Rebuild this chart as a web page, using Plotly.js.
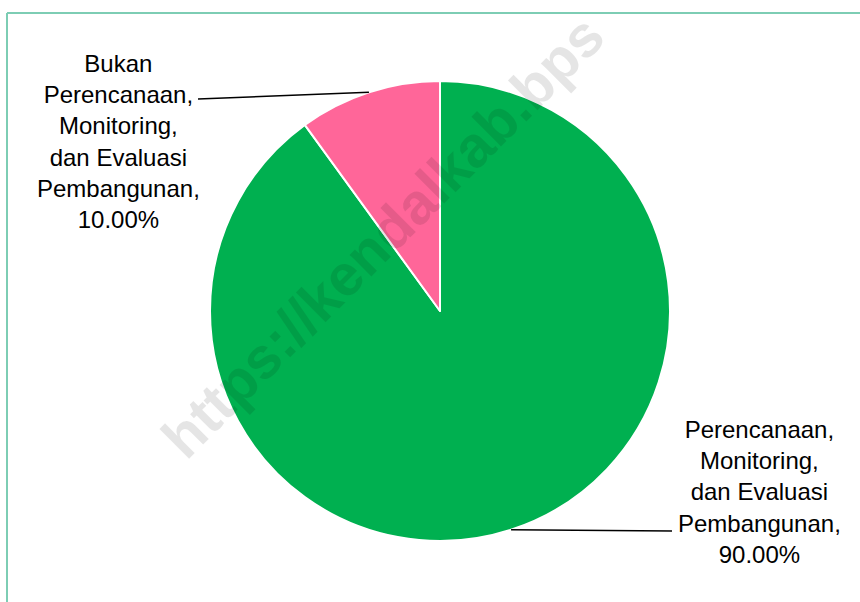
<!DOCTYPE html>
<html><head><meta charset="utf-8">
<script src="https://cdn.plot.ly/plotly-3.0.1.min.js"></script>
<style>html,body{margin:0;padding:0;background:#fff}#chart{width:860px;height:602px}</style>
</head><body><div id="chart"></div>
<script>
const labels = ["Perencanaan, Monitoring, dan Evaluasi Pembangunan", "Bukan Perencanaan, Monitoring, dan Evaluasi Pembangunan"];
const values = [90, 10];
const colors = ["#00B050", "#FF6699"];
const watermark = "https://kendalkab.bps";

const W = 860, H = 602;
const cx = 440, cy = 311, R = 230;
const px = x => x / W, py = y => 1 - y / H;

function wrap(s, n) {
  const words = s.split(" ");
  const lines = [];
  let cur = "";
  words.forEach(w => {
    if (!cur) cur = w;
    else if ((cur + " " + w).length <= n) cur += " " + w;
    else { lines.push(cur); cur = w; }
  });
  if (cur) lines.push(cur);
  return lines;
}

const total = values.reduce((a, b) => a + b, 0);
let cum = 0;
const mids = values.map(v => { const m = (cum + v / 2) / total * 360; cum += v; return m; });
const edge = mids.map(a => [cx + R * Math.sin(a * Math.PI / 180), cy - R * Math.cos(a * Math.PI / 180)]);

const labelPos = [[759, 492], [118, 141]];
const lineEnd = [[672, 531], [198, 99]];

const annotations = labels.map((l, i) => {
  const lines = wrap(l, 12);
  lines[lines.length - 1] += ",";
  lines.push((values[i] / total * 100).toFixed(2) + "%");
  return {
    xref: "paper", yref: "paper",
    x: px(labelPos[i][0]), y: py(labelPos[i][1]),
    xanchor: "center", yanchor: "middle", align: "center",
    text: lines.join("<br>"), showarrow: false,
    font: {family: "Liberation Sans, Arial, sans-serif", size: 24, color: "#000"}
  };
});
annotations.push({
  xref: "paper", yref: "paper", x: px(382), y: py(236),
  xanchor: "center", yanchor: "middle",
  text: "<b>" + watermark + "</b>", showarrow: false, textangle: -45,
  font: {family: "Liberation Sans, Arial, sans-serif", size: 58, color: "rgba(0,0,0,0.1)"}
});

const shapes = edge.map((e, i) => ({
  type: "line", xref: "paper", yref: "paper",
  x0: px(e[0]), y0: py(e[1]), x1: px(lineEnd[i][0]), y1: py(lineEnd[i][1]),
  line: {color: "#000", width: 1.5}
}));
shapes.push({type: "line", xref: "paper", yref: "paper", x0: px(7), y0: py(13), x1: px(W + 5), y1: py(13), line: {color: "rgb(125,205,180)", width: 2}});
shapes.push({type: "line", xref: "paper", yref: "paper", x0: px(7), y0: py(13), x1: px(7), y1: py(H + 5), line: {color: "rgb(125,205,180)", width: 2}});

const trace = {
  type: "pie", labels: labels, values: values, sort: false,
  direction: "clockwise", rotation: 0,
  marker: {colors: colors, line: {color: "#fff", width: 2}},
  textinfo: "none", hoverinfo: "none", showlegend: false,
  domain: {x: [px(cx - R), px(cx + R)], y: [py(cy + R), py(cy - R)]}
};

Plotly.newPlot("chart", [trace], {
  width: W, height: H, margin: {l: 0, r: 0, t: 0, b: 0},
  paper_bgcolor: "#fff", showlegend: false,
  annotations: annotations, shapes: shapes
}, {staticPlot: true});
</script></body></html>
